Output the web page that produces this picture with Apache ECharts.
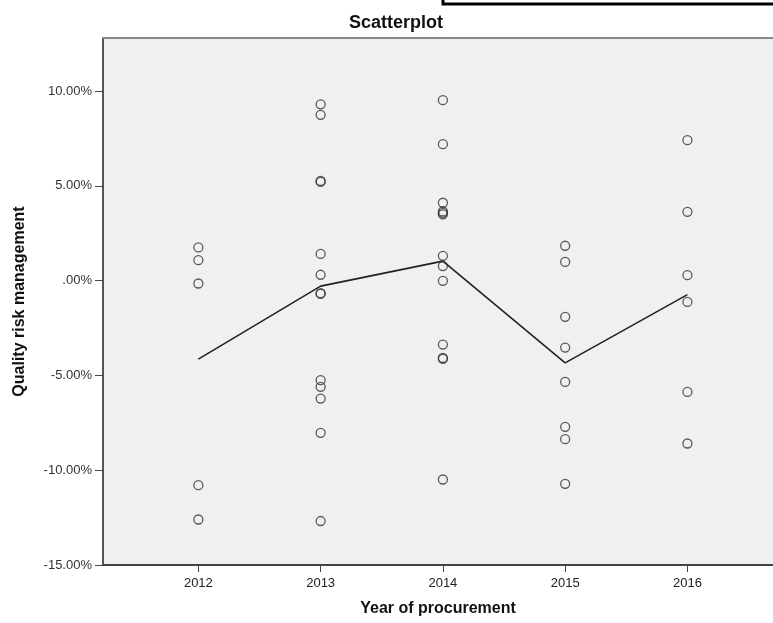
<!DOCTYPE html>
<html>
<head>
<meta charset="utf-8">
<script src="https://cdn.jsdelivr.net/npm/echarts@6/dist/echarts.min.js"></script>
<style>
html,body{margin:0;padding:0;background:#fff;}
#chart{width:773px;height:623px;}
</style>
</head>
<body>
<div id="chart"></div>
<script>
// Data (values in %)
var years = [2012, 2013, 2014, 2015, 2016];
var vals2012 = [1.75, 1.08, -0.15, -10.79, -12.60];
var vals2013 = [9.30, 8.75, 5.21, 5.26, 1.41, 0.31, -0.70, -0.66, -5.25, -5.60, -6.22, -8.03, -12.68];
var vals2014 = [9.52, 7.20, 4.11, 3.50, 3.58, 3.65, 1.31, 0.77, -0.01, -3.37, -4.08, -4.13, -10.49];
var vals2015 = [1.84, 0.99, -1.91, -3.53, -5.34, -7.71, -8.36, -10.72];
var vals2016 = [7.41, 3.63, 0.29, -1.12, -5.87, -8.59];
var means = [-4.14, -0.29, 1.03, -4.34, -0.74];
var yTicks = [-15, -10, -5, 0, 5, 10];

var groups = [vals2012, vals2013, vals2014, vals2015, vals2016];
var scatterData = [];
groups.forEach(function (g, i) {
  g.forEach(function (v) { scatterData.push([years[i], v]); });
});
var lineData = years.map(function (y, i) { return [y, means[i]]; });

function fmt(v) {
  var s = Math.abs(v).toFixed(2);
  if (s.charAt(0) === '0') s = s.substring(1);
  return (v < 0 ? '-' : '') + s + '%';
}

var FONT = 'Liberation Sans, Arial, sans-serif';
var chart = echarts.init(document.getElementById('chart'), null, {renderer: 'canvas'});
chart.setOption({
  backgroundColor: '#ffffff',
  animation: false,
  title: {
    text: 'Scatterplot',
    left: 391,
    textAlign: 'center',
    top: 9,
    textStyle: {fontFamily: FONT, fontSize: 18, fontWeight: 'bold', color: '#111'}
  },
  grid: {
    left: 103, right: 0, top: 38, bottom: 58,
    outerBoundsMode: 'none',
    containLabel: false,
    show: true, backgroundColor: '#f0f0f0', borderWidth: 0
  },
  xAxis: [{
    type: 'value',
    min: 2011.22, max: 2016.70,
    name: 'Year of procurement',
    nameLocation: 'middle',
    nameGap: 36,
    nameTextStyle: {fontFamily: FONT, fontSize: 16, fontWeight: 'bold', color: '#111'},
    axisLine: {show: true, onZero: false, lineStyle: {color: '#444', width: 2}},
    axisTick: {show: true, customValues: years, length: 7, lineStyle: {color: '#444', width: 1}},
    axisLabel: {show: true, customValues: years, color: '#222', fontSize: 13, margin: 12,
      fontFamily: FONT, formatter: function (v) { return String(Math.round(v)); }},
    splitLine: {show: false}
  }, {
    type: 'value',
    position: 'top',
    min: 2011.22, max: 2016.70,
    axisLine: {show: true, onZero: false, lineStyle: {color: '#888', width: 2}},
    axisTick: {show: false},
    axisLabel: {show: false},
    splitLine: {show: false}
  }],
  yAxis: {
    type: 'value',
    min: -15, max: 12.8, interval: 5,
    name: 'Quality risk management',
    nameLocation: 'middle',
    nameGap: 75,
    nameTextStyle: {fontFamily: FONT, fontSize: 16, fontWeight: 'bold', color: '#111'},
    axisLine: {show: true, onZero: false, lineStyle: {color: '#555', width: 2}},
    axisTick: {show: true, length: 8, lineStyle: {color: '#444', width: 1}},
    axisLabel: {color: '#333', fontSize: 13, margin: 11, fontFamily: FONT,
      formatter: function (v) { return fmt(v); }, showMaxLabel: false},
    splitLine: {show: false}
  },
  series: [{
    type: 'line',
    data: lineData,
    symbol: 'none',
    lineStyle: {color: '#222', width: 1.6},
    z: 3
  }, {
    type: 'scatter',
    data: scatterData,
    symbol: 'circle',
    symbolSize: 9,
    itemStyle: {color: 'rgba(0,0,0,0)', borderColor: '#333', borderWidth: 1.3},
    z: 4
  }],
  graphic: [{
    type: 'rect',
    shape: {x: 443, y: -10, width: 345, height: 14},
    style: {fill: '#fff', stroke: '#000', lineWidth: 3},
    z: 100
  }]
});
</script>
</body>
</html>
